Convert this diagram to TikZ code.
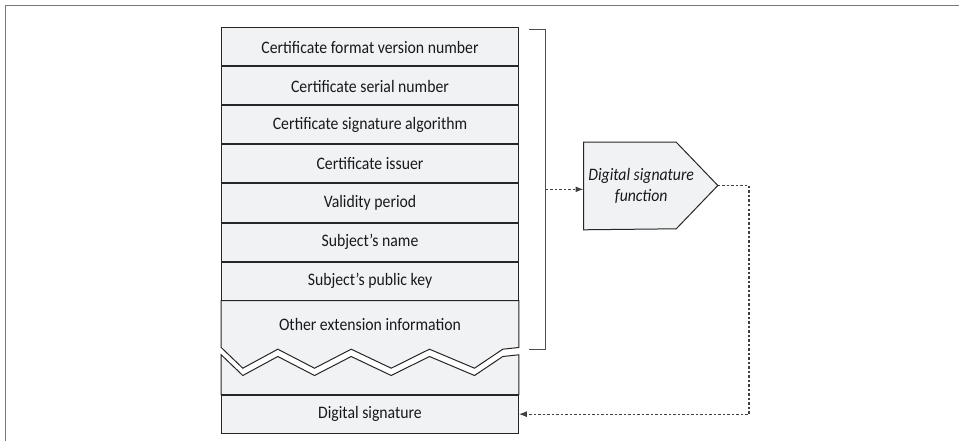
\documentclass[tikz,border=0pt]{standalone}
\usepackage{fontspec}
\setmainfont{Carlito}[FakeStretch=0.9]
\usetikzlibrary{arrows.meta, positioning, backgrounds}
\definecolor{fieldgray}{RGB}{241,242,244}
\definecolor{framegray}{RGB}{120,120,120}

\begin{document}
\begin{tikzpicture}[
    x=1pt, y=-1pt,
    node distance=0pt,
    field/.style={rectangle, draw=black!85, line width=1pt, fill=fieldgray, minimum width=296.6pt,
                  minimum height=38pt, inner sep=0pt, font=\fontsize{17.5}{19}\selectfont, text=black!90},
    tornedge/.style={insert path={-- ++(21.6,20.7) -- ++(35,-19) -- ++(36.7,19) -- ++(36.7,-19)
                  -- ++(40,19) -- ++(38.3,-19) -- ++(45,19) -- ++(28.3,-19)}},
    dotarrow/.style={-{Latex[length=8pt, width=6pt]}, black!75, line width=1.3pt,
                     dash pattern=on 2.5pt off 2pt}
]
    \useasboundingbox (0,0) rectangle (959,441);
    \draw[framegray, line width=1.5pt] (5.5,441) -- (5.5,5.5) -- (959,5.5);

    \node[field] (ver) at (370,47) {Certificate format version number};
    \node[field, below=of ver] (serial) {Certificate serial number};
    \node[field, below=of serial] (alg) {Certificate signature algorithm};
    \node[field, below=of alg] (issuer) {Certificate issuer};
    \node[field, below=of issuer] (valid) {Validity period};
    \node[field, below=of valid] (subj) {Subject’s name};
    \node[field, below=of subj] (pubkey) {Subject’s public key};
    \node[field, below=of pubkey, draw=none, fill=none, minimum height=46pt] (other) {Other extension information};
    \node[field, below=7.3pt of other, draw=none, fill=none, minimum height=38.7pt] (gap) {};
    \node[field, below=of gap, minimum height=38.3pt] (sig) {Digital signature};

    % signature function box
    \node[field, draw=none, fill=none, minimum width=114.3pt, minimum height=86.6pt, align=center,
          font=\fontsize{17.5}{21}\selectfont\itshape] (fn) at (641.2,186) {Digital signature\\function};

    \begin{scope}[on background layer]
        % torn edges of the field list
        \filldraw[fill=fieldgray, draw=black!85, line width=1pt]
            (other.north west) -- (other.south west) [tornedge] -- (other.south east) -- (other.north east) -- cycle;
        \filldraw[fill=fieldgray, draw=black!85, line width=1pt]
            (gap.south west) -- (gap.north west) [tornedge] -- (gap.north east) -- (gap.south east) -- cycle;
        \filldraw[fill=fieldgray, draw=black!85, line width=1pt]
            (fn.north west) -- ++(92.7,0) -- ++(41.6,43.3) coordinate (fntip) -- ++(-41.6,43.3)
            -- (fn.south west) -- cycle;
    \end{scope}

    % bracket over the signed fields
    \draw[black!70, line width=1pt] ([xshift=10pt, yshift=-2pt]ver.north east) -- ++(16.7,0)
        -- ([xshift=26.7pt, yshift=-1.7pt]other.south east) coordinate[pos=0.5] (brmid)
        -- ([xshift=10pt, yshift=-1.7pt]other.south east);

    \draw[dotarrow] (brmid) -- (fn.west |- brmid);
    \draw[dotarrow] (fntip) -- ++(31,0) |- (sig.east);
\end{tikzpicture}
\end{document}
